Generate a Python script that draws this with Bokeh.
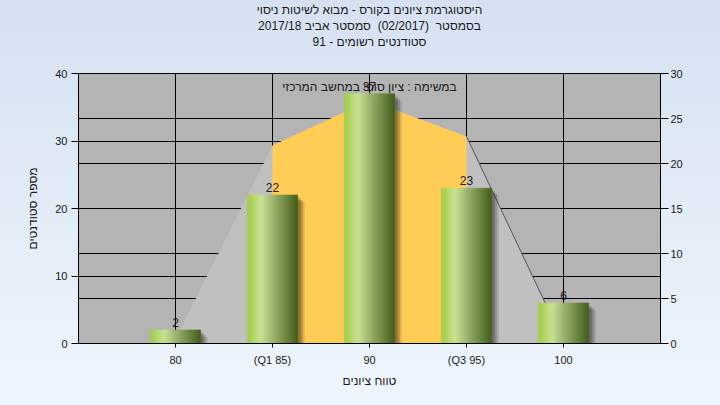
from bokeh.plotting import figure
from bokeh.models import (FactorRange, Range1d, LinearAxis, FixedTicker, Grid,
                          ColumnDataSource, Title)
from bokeh.transform import dodge
from bokeh.core.properties import value
from bokeh.embed import file_html
from bokeh.resources import INLINE

# ---------------- data ----------------
categories = ["80", "(Q1 85)", "90", "(Q3 95)", "100"]
counts = [2, 22, 37, 23, 6]
# background frequency polygon, read on the right axis
curve = [0.5, 22.0, 27.0, 23.0, 0.2]
left_ticks = [0, 10, 20, 30, 40]
right_ticks = [0, 5, 10, 15, 20, 25, 30]
title_lines = ["היסטוגרמת ציונים בקורס - מבוא לשיטות ניסוי",
               "בסמסטר\u00a0\u00a0(02/2017)\u00a0\u00a0סמסטר אביב 2017/18",
               "סטודנטים רשומים - 91"]
x_label = "טווח ציונים"
y_label = "מספר סטודנטים"
note = "במשימה : ציון סופי במחשב המרכזי"

FONT = "Liberation Sans"
TXT = "#1a1a1a"

q1 = next(i for i, c in enumerate(categories) if "Q1" in c)
q3 = next(i for i, c in enumerate(categories) if "Q3" in c)

src = ColumnDataSource(dict(cat=categories, count=counts,
                            label=[str(c) for c in counts]))

p = figure(width=720, height=405,
           x_range=FactorRange(factors=categories, range_padding=0.5,
                               range_padding_units="absolute"),
           y_range=Range1d(left_ticks[0], left_ticks[-1]),
           output_backend="svg", toolbar_location=None, title_location=None,
           min_border_left=78, min_border_right=60,
           min_border_top=73, min_border_bottom=62)
p.extra_y_ranges = {"right": Range1d(right_ticks[0], right_ticks[-1]),
                    "unit": Range1d(0, 1)}

p.border_fill_color = None
p.background_fill_color = "#b4b4b4"
p.outline_line_color = "black"

# spacer between the frame and the title block (first added = closest)
p.add_layout(Title(text="\u00a0", align="center", text_font=FONT,
                   text_font_size="12px", standoff=9), "above")
# title lines, bottom line first
for line in [title_lines[2], title_lines[1], title_lines[0]]:
    p.add_layout(Title(text=line, align="center", text_font=FONT,
                       text_font_size="12px", text_font_style="normal",
                       text_color=TXT, standoff=0), "above")

# grids
p.xgrid.grid_line_color = "black"
p.ygrid.ticker = FixedTicker(ticks=left_ticks)
p.ygrid.grid_line_color = "black"
rgrid = Grid(dimension=1, ticker=FixedTicker(ticks=right_ticks),
             y_range_name="right", grid_line_color="black")
p.add_layout(rgrid)

# axes
def style_axis(ax):
    ax.axis_line_color = "black"
    ax.major_tick_line_color = "black"
    ax.major_tick_in = 0
    ax.minor_tick_line_color = None
    ax.major_label_text_font = FONT
    ax.major_label_text_font_size = "11px"
    ax.major_label_text_color = TXT
    ax.axis_label_text_font = FONT
    ax.axis_label_text_font_size = "12px"
    ax.axis_label_text_font_style = "normal"
    ax.axis_label_text_color = TXT

xa = p.xaxis[0]
style_axis(xa)
xa.axis_label = x_label
xa.major_tick_out = 4
xa.major_label_standoff = 6
xa.axis_label_standoff = 5

ya = p.yaxis[0]
style_axis(ya)
ya.ticker = FixedTicker(ticks=left_ticks)
ya.axis_label = y_label
ya.major_tick_out = 7
ya.major_label_standoff = 4
ya.axis_label_standoff = 12

ra = LinearAxis(y_range_name="right", ticker=FixedTicker(ticks=right_ticks))
style_axis(ra)
ra.major_tick_out = 8
ra.major_label_standoff = 2
p.add_layout(ra, "right")

# background polygon (light grey) and inter-quartile area (yellow)
poly_x = [categories[0]] + categories + [categories[-1]]
poly_y = [0] + curve + [0]
p.patch(poly_x, poly_y, y_range_name="right", fill_color="#c0c0c0",
        line_color=None)
iq_x = [categories[q1]] + categories[q1:q3 + 1] + [categories[q3]]
iq_y = [0] + curve[q1:q3 + 1] + [0]
p.patch(iq_x, iq_y, y_range_name="right", fill_color="#ffcc55",
        line_color=None)
p.line(categories[q3:], curve[q3:], y_range_name="right",
       line_color="#555555", line_width=1)

# bar shadows
W = 0.52
px_x = 1 / 97.0
px_y = (left_ticks[-1] - left_ticks[0]) / 270.0
for d, a in [(3, 0.25), (5, 0.22), (7, 0.15)]:
    p.vbar(x=dodge("cat", d * px_x, range=p.x_range),
           top=dodge("count", -d * px_y, range=p.y_range),
           bottom=0, width=W, source=src,
           fill_color="#202018", fill_alpha=a, line_color=None)

# gradient bars
stops = [(0.0, (160, 204, 66)), (0.28, (202, 228, 150)),
         (0.62, (136, 162, 94)), (1.0, (68, 94, 28))]

def grad(t):
    for (t0, c0), (t1, c1) in zip(stops[:-1], stops[1:]):
        if t <= t1:
            f = (t - t0) / (t1 - t0)
            return "#%02x%02x%02x" % tuple(int(round(a + (b - a) * f))
                                           for a, b in zip(c0, c1))
    return "#%02x%02x%02x" % stops[-1][1]

N = 26
for i in range(N):
    t = (i + 0.5) / N
    off = -W / 2 + (i + 0.5) * W / N
    c = grad(t)
    p.vbar(x=dodge("cat", off, range=p.x_range), top="count", bottom=0,
           width=W / N, source=src, fill_color=c, line_color=c,
           line_width=0.6)

# value labels
p.text(x="cat", y="count", text="label", source=src, text_align="center",
       text_baseline="bottom", y_offset=-3, text_font=value(FONT),
       text_font_size="12px", text_color=TXT)

# note inside plot, centred on the middle category near the top
p.text(x=[categories[len(categories) // 2]], y=[0.951], text=[note],
       y_range_name="unit", text_align="center", text_baseline="middle",
       text_font=value(FONT), text_font_size="12px", text_color=TXT)

html = file_html(p, INLINE)
style = ("<style>html{min-height:100%;background:linear-gradient(to bottom,"
         "#d5e1f1,#eef6fd);}body{margin:0;}</style>")
html = html.replace("</head>", style + "</head>", 1)
open("out.html", "w").write(html)
